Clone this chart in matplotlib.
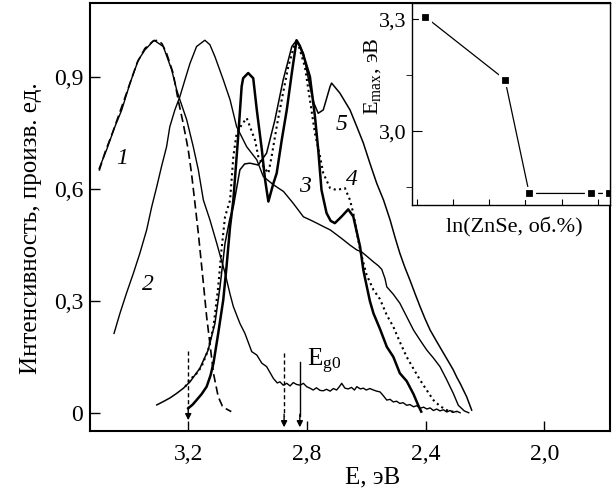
import matplotlib.pyplot as plt
import numpy as np

plt.rcParams['font.family'] = ['Liberation Serif', 'DejaVu Serif']
plt.rcParams['mathtext.fontset'] = 'custom'
plt.rcParams['mathtext.rm'] = 'Liberation Serif'
plt.rcParams['mathtext.it'] = 'Liberation Serif:italic'

# кривая 1 (сплошная) и 1 (штрих)
e1 = [3.500, 3.475, 3.447, 3.424, 3.396, 3.368, 3.346, 3.315, 3.284, 3.256, 3.239, 3.228,
      3.205, 3.183, 3.166, 3.149, 3.127, 3.104, 3.076, 3.059, 3.048, 3.026, 3.009, 2.986,
      2.969, 2.952, 2.936, 2.913, 2.900, 2.891, 2.880, 2.868, 2.857, 2.846, 2.835, 2.823,
      2.812, 2.801, 2.790, 2.779, 2.768, 2.756, 2.745, 2.734, 2.722, 2.711, 2.700, 2.689,
      2.683, 2.672, 2.661, 2.650, 2.640, 2.632, 2.620, 2.610, 2.600, 2.588, 2.576, 2.565,
      2.554, 2.545, 2.537, 2.531, 2.520, 2.509, 2.498, 2.487, 2.476, 2.464, 2.453, 2.441,
      2.430, 2.419, 2.407, 2.396, 2.385, 2.374, 2.363, 2.352, 2.340, 2.329, 2.318, 2.307,
      2.295, 2.284]
i1 = [0.656, 0.706, 0.768, 0.813, 0.885, 0.947, 0.974, 1.000, 0.983, 0.921, 0.867, 0.840,
      0.786, 0.714, 0.652, 0.571, 0.518, 0.455, 0.375, 0.318, 0.285, 0.240, 0.213, 0.164,
      0.155, 0.133, 0.124, 0.092, 0.080, 0.083, 0.074, 0.079, 0.072, 0.081, 0.076, 0.074,
      0.079, 0.070, 0.066, 0.061, 0.067, 0.060, 0.059, 0.063, 0.058, 0.065, 0.061, 0.072,
      0.079, 0.066, 0.064, 0.068, 0.061, 0.070, 0.064, 0.066, 0.061, 0.065, 0.061, 0.058,
      0.056, 0.048, 0.040, 0.034, 0.036, 0.029, 0.031, 0.025, 0.027, 0.020, 0.022, 0.016,
      0.019, 0.012, 0.015, 0.010, 0.013, 0.006, 0.010, 0.005, 0.008, 0.002, 0.006, 0.001,
      0.004, 0.000]

e1d = [3.500, 3.480, 3.455, 3.430, 3.400, 3.372, 3.346, 3.318, 3.301, 3.288, 3.273, 3.251,
       3.234, 3.217, 3.200, 3.189, 3.177, 3.166, 3.149, 3.138, 3.127, 3.115, 3.099, 3.085,
       3.071, 3.055]
i1d = [0.650, 0.700, 0.752, 0.808, 0.876, 0.940, 0.978, 0.998, 1.000, 0.990, 0.965, 0.912,
       0.840, 0.777, 0.706, 0.643, 0.560, 0.482, 0.348, 0.258, 0.186, 0.106, 0.043, 0.018,
       0.010, 0.003]

# кривая 2
e2 = [3.450, 3.430, 3.408, 3.385, 3.363, 3.340, 3.323, 3.306, 3.290, 3.273, 3.262, 3.245,
      3.228, 3.211, 3.194, 3.172, 3.144, 3.127, 3.110, 3.082, 3.059, 3.037, 3.003, 2.969,
      2.947, 2.913, 2.879, 2.846, 2.812, 2.790, 2.767, 2.745, 2.722, 2.700, 2.677, 2.655,
      2.632, 2.616, 2.595, 2.576, 2.560, 2.548, 2.537, 2.531, 2.509, 2.487, 2.464, 2.441,
      2.419, 2.396, 2.374, 2.352, 2.330, 2.307, 2.290, 2.270, 2.255]
i2 = [0.213, 0.267, 0.321, 0.374, 0.428, 0.491, 0.553, 0.607, 0.661, 0.714, 0.768, 0.813,
      0.849, 0.894, 0.938, 0.983, 1.000, 0.988, 0.956, 0.894, 0.840, 0.768, 0.714, 0.679,
      0.634, 0.612, 0.594, 0.562, 0.526, 0.518, 0.509, 0.500, 0.491, 0.478, 0.464, 0.450,
      0.437, 0.432, 0.418, 0.405, 0.395, 0.385, 0.360, 0.338, 0.318, 0.294, 0.258, 0.222,
      0.195, 0.168, 0.147, 0.124, 0.090, 0.052, 0.020, 0.005, 0.000]

# кривая 3 (жирная)
e3 = [3.200, 3.185, 3.172, 3.155, 3.138, 3.125, 3.115, 3.099, 3.082, 3.071, 3.059, 3.048,
      3.031, 3.020, 3.015, 2.998, 2.981, 2.969, 2.952, 2.941, 2.930, 2.913, 2.902, 2.885,
      2.868, 2.851, 2.835, 2.824, 2.812, 2.790, 2.773, 2.762, 2.751, 2.734, 2.720, 2.706,
      2.683, 2.661, 2.644, 2.621, 2.610, 2.604, 2.588, 2.576, 2.554, 2.531, 2.509, 2.487,
      2.464, 2.441, 2.425, 2.415]
i3 = [0.012, 0.022, 0.034, 0.050, 0.070, 0.100, 0.133, 0.213, 0.303, 0.392, 0.500, 0.571,
      0.750, 0.876, 0.898, 0.912, 0.898, 0.813, 0.706, 0.625, 0.567, 0.616, 0.643, 0.732,
      0.813, 0.912, 1.000, 0.985, 0.960, 0.902, 0.795, 0.706, 0.598, 0.536, 0.515, 0.509,
      0.527, 0.546, 0.527, 0.446, 0.383, 0.360, 0.300, 0.267, 0.225, 0.177, 0.150, 0.106,
      0.085, 0.050, 0.020, 0.003]

# кривая 4 (пунктир)
e4 = [3.210, 3.195, 3.177, 3.155, 3.133, 3.115, 3.099, 3.088, 3.076, 3.059, 3.048, 3.037,
      3.020, 3.003, 2.992, 2.975, 2.964, 2.947, 2.930, 2.919, 2.902, 2.885, 2.863, 2.840,
      2.829, 2.807, 2.790, 2.773, 2.756, 2.745, 2.722, 2.700, 2.672, 2.655, 2.644, 2.621,
      2.599, 2.576, 2.554, 2.531, 2.509, 2.487, 2.464, 2.441, 2.419, 2.396, 2.374, 2.352,
      2.329, 2.295]
i4 = [0.070, 0.090, 0.100, 0.124, 0.168, 0.231, 0.338, 0.437, 0.526, 0.571, 0.688, 0.750,
      0.773, 0.791, 0.768, 0.732, 0.688, 0.661, 0.643, 0.688, 0.768, 0.840, 0.929, 0.993,
      0.988, 0.929, 0.840, 0.750, 0.688, 0.643, 0.603, 0.598, 0.603, 0.571, 0.536, 0.437,
      0.370, 0.330, 0.305, 0.262, 0.231, 0.190, 0.150, 0.118, 0.088, 0.060, 0.034, 0.018,
      0.007, 0.000]

# кривая 5
e5 = [3.306, 3.284, 3.261, 3.239, 3.216, 3.194, 3.161, 3.133, 3.110, 3.093, 3.076, 3.060,
      3.048, 3.026, 3.010, 2.992, 2.964, 2.936, 2.908, 2.880, 2.851, 2.835, 2.812, 2.790,
      2.776, 2.762, 2.745, 2.722, 2.717, 2.689, 2.655, 2.632, 2.610, 2.588, 2.565, 2.542,
      2.520, 2.503, 2.487, 2.470, 2.453, 2.436, 2.419, 2.402, 2.385, 2.362, 2.340, 2.323,
      2.307, 2.295, 2.284, 2.262, 2.245]
i5 = [0.021, 0.030, 0.040, 0.052, 0.066, 0.083, 0.119, 0.168, 0.240, 0.338, 0.455, 0.520,
      0.553, 0.652, 0.668, 0.670, 0.665, 0.697, 0.786, 0.894, 0.983, 1.000, 0.965, 0.876,
      0.830, 0.804, 0.813, 0.876, 0.885, 0.858, 0.813, 0.768, 0.724, 0.670, 0.616, 0.571,
      0.518, 0.470, 0.428, 0.390, 0.356, 0.320, 0.285, 0.252, 0.222, 0.190, 0.160, 0.137,
      0.115, 0.095, 0.079, 0.043, 0.007]

# стрелки (E, верх)
strelki_e = [3.20, 2.877, 2.824]
strelki_top = [0.167, 0.160, 0.137]
strelki_tip = [-0.020, -0.039, -0.039]
strelki_ls = ['--', '--', '-']

# вставка
zn_vol = [1.73e-4, 0.0272, 0.127, 6.4, 20.1]
emax = [3.306, 3.138, 2.833, 2.833, 2.833]

fig = plt.figure(figsize=(6.13, 4.90), dpi=100)
ax = fig.add_axes([0.1468, 0.1204, 0.8483, 0.8735])

ax.plot(e1, i1, 'k-', lw=1.0)
ax.plot(e1d, i1d, 'k--', lw=1.2, dashes=(5, 2.5))
ax.plot(e2, i2, 'k-', lw=1.0)
ax.plot(e3, i3, 'k-', lw=1.8)
ax.plot(e4, i4, 'k:', lw=1.5)
ax.plot(e5, i5, 'k-', lw=1.1)

for x, t, tip, ls in zip(strelki_e, strelki_top, strelki_tip, strelki_ls):
    ax.plot([x, x], [t, tip + 0.03], color='k', lw=1.0, ls=ls, dashes=(3, 2) if ls == '--' else (None, None))
    ax.annotate('', xy=(x, tip), xytext=(x, tip + 0.035),
                arrowprops=dict(arrowstyle='-|>', color='k', lw=1.0, mutation_scale=9,
                                shrinkA=0, shrinkB=0))

ax.text(2.80, 0.125, r'E$_{\mathrm{g0}}$', fontsize=18, ha='left', va='baseline')

for lab, x, y in [('1', 3.424, 0.683), ('2', 3.335, 0.343), ('3', 2.807, 0.607),
                  ('4', 2.649, 0.625), ('5', 2.683, 0.773)]:
    ax.text(x, y, lab, fontsize=17, style='italic', ha='center', va='center')

ax.set_xlim(3.531, 1.779)
ax.set_ylim(-0.049, 1.10)
ax.set_xticks([3.2, 2.8, 2.4, 2.0])
ax.set_xticklabels(['3,2', '2,8', '2,4', '2,0'])
ax.set_yticks([0, 0.3, 0.6, 0.9])
ax.set_yticklabels(['0', '0,3', '0,6', '0,9'])
ax.tick_params(direction='in', length=7, width=1, labelsize=17)
ax.tick_params(axis='x', pad=9)
ax.tick_params(axis='y', pad=5)
for s in ax.spines.values():
    s.set_linewidth(1.5)

ax.set_xlabel('E, эВ', fontsize=18)
ax.xaxis.set_label_coords(0.544, -0.082)
ax.set_ylabel('Интенсивность, произв. ед.', fontsize=18)
ax.yaxis.set_label_coords(-0.092, 0.474)

# вставка
ax2 = fig.add_axes([0.6716, 0.5816, 0.3235, 0.4122])
ax2.plot(zn_vol, emax, 'k-', lw=0.9, marker='s', ms=7.5, mfc='k', mec='white', mew=2.3)
ax2.set_xscale('log')
ax2.set_xlim(10 ** -4.138, 10 ** 1.331)
ax2.set_ylim(2.802, 3.343)
ax2.set_yticks([3.0, 3.3])
ax2.set_yticklabels(['3,0', '3,3'])
ax2.set_yticks([2.85, 3.15], minor=True)
ax2.set_xticks([1e-4, 1e-3, 1e-2, 1e-1, 1, 10])
ax2.xaxis.set_minor_locator(plt.matplotlib.ticker.LogLocator(base=10, subs=np.arange(2, 10)))
ax2.xaxis.set_major_formatter(plt.NullFormatter())
ax2.xaxis.set_minor_formatter(plt.NullFormatter())
ax2.tick_params(direction='in', labelsize=16, width=0.8)
ax2.tick_params(axis='y', which='major', length=7, pad=4)
ax2.tick_params(axis='y', which='minor', length=4)
ax2.tick_params(axis='x', which='major', length=4)
ax2.tick_params(axis='x', which='minor', length=2.5)
for s in ax2.spines.values():
    s.set_linewidth(1.0)

ax2.set_xlabel('ln(ZnSe, об.%)', fontsize=16)
ax2.xaxis.set_label_coords(0.516, -0.064)
ax2.set_ylabel(r'E$_{\mathrm{max}}$, эВ', fontsize=16)
ax2.yaxis.set_label_coords(-0.145, 0.64)

fig.savefig('out.png', dpi=100)
